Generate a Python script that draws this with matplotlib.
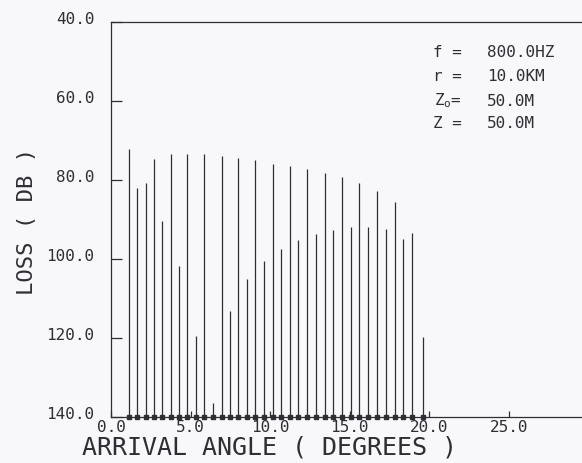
import matplotlib
matplotlib.use("Agg")
import matplotlib.pyplot as plt
import matplotlib.transforms as mtransforms

# arrival angles (deg) and loss (dB) of each ray arrival
angles = [1.13, 1.65, 2.18, 2.70, 3.22, 3.75, 4.27, 4.79, 5.34, 5.86,
          6.43, 6.95, 7.47, 7.99, 8.52, 9.06, 9.61, 10.16, 10.68, 11.22,
          11.77, 12.33, 12.88, 13.42, 13.96, 14.53, 15.08, 15.58, 16.14, 16.71,
          17.27, 17.84, 18.38, 18.93, 19.62]
losses = [72.2, 81.9, 80.8, 74.8, 90.4, 73.5, 101.8, 73.3, 119.5, 73.5,
          136.5, 73.9, 113.2, 74.5, 105.1, 75.0, 100.4, 75.9, 97.5, 76.5,
          95.3, 77.2, 93.6, 78.2, 92.6, 79.3, 91.8, 80.8, 91.8, 82.7,
          92.3, 85.6, 95.0, 93.5, 119.8]

x_ticks = [0, 5, 10, 15, 20, 25]
y_ticks = [40, 60, 80, 100, 120, 140]
param_names = ["f =", "r =", r"Z$_\mathrm{o}$=", "Z ="]
param_values = ["800.0HZ", "10.0KM", "50.0M", "50.0M"]

INK = "#2f2f33"
BG = "#f8f8fb"
MONO = "DejaVu Sans Mono"

plt.rcParams["mathtext.fontset"] = "custom"
plt.rcParams["mathtext.rm"] = MONO

fig = plt.figure(figsize=(5.82, 4.63), dpi=100)
fig.patch.set_facecolor(BG)
ax = fig.add_axes([111 / 582, 46 / 463, 471 / 582, 395 / 463])
ax.set_facecolor(BG)

ax.vlines(angles, losses, 140, colors=INK, linewidth=0.9)
ax.plot(angles, [140] * len(angles), ls="none", marker="s", ms=2.4,
        color=INK, clip_on=False)

ax.set_xlim(0, 29.6)
ax.set_ylim(140, 40)

for s in ("left", "bottom", "top"):
    ax.spines[s].set_color(INK)
    ax.spines[s].set_linewidth(0.9)
ax.spines["right"].set_visible(False)

ax.set_xticks(x_ticks)
ax.set_xticklabels([f"{v:.1f}" for v in x_ticks])
ax.set_yticks(y_ticks)
ax.set_yticklabels([f"{v:.1f}" for v in y_ticks])
ax.tick_params(axis="y", direction="in", length=8, width=0.9, color=INK,
               labelsize=11.5, labelcolor=INK, pad=12)
ax.tick_params(axis="x", direction="in", length=4, width=0.9, color=INK,
               labelsize=11.5, labelcolor=INK, pad=2)
for lab in ax.get_xticklabels() + ax.get_yticklabels():
    lab.set_fontfamily(MONO)
up = mtransforms.ScaledTranslation(0, 4 / 100, fig.dpi_scale_trans)
for lab in ax.get_yticklabels():
    lab.set_transform(lab.get_transform() + up)

ax.set_xlabel("ARRIVAL ANGLE ( DEGREES )", fontfamily=MONO, fontsize=18,
              color=INK)
ax.xaxis.set_label_coords(0.337, -0.078)
ax.xaxis.label.set_va("center")
ax.set_ylabel("LOSS ( DB )", fontfamily=MONO, fontsize=16, color=INK)
ax.yaxis.set_label_coords(-0.178, 0.494)
ax.yaxis.label.set_va("center")

row_y = [0.922, 0.863, 0.800, 0.744]
for name, val, y in zip(param_names, param_values, row_y):
    ax.text(0.745, y, name, transform=ax.transAxes, ha="right", va="center",
            fontfamily=MONO, fontsize=11.5, color=INK)
    ax.text(0.798, y, val, transform=ax.transAxes, ha="left", va="center",
            fontfamily=MONO, fontsize=11.5, color=INK)

fig.savefig("out.png", dpi=100, facecolor=BG)
